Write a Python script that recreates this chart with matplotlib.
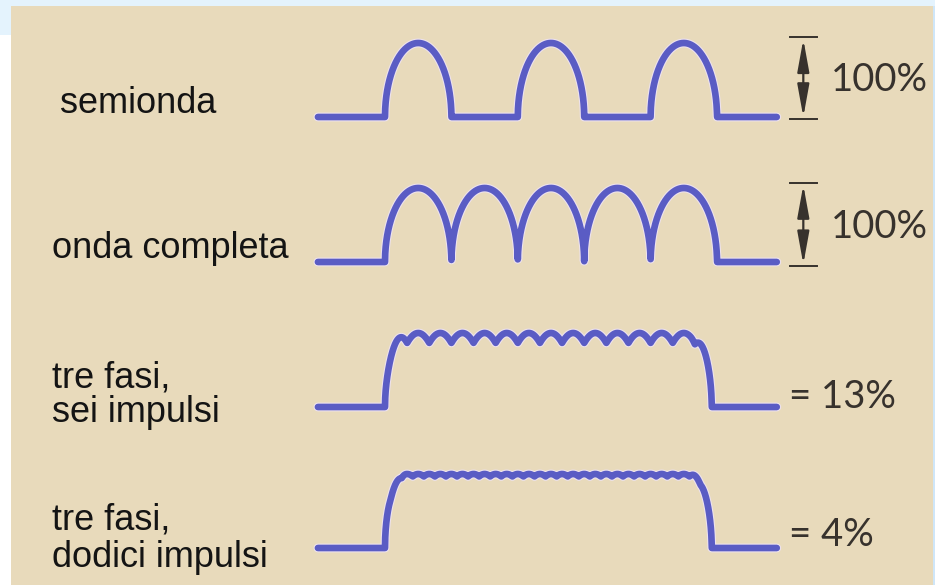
import matplotlib
matplotlib.use('Agg')
import matplotlib.pyplot as plt
import numpy as np
from matplotlib.patches import Rectangle
import matplotlib.patheffects as pe

# rows of the diagram, top to bottom
labels = ["semionda", "onda completa", "tre fasi,\nsei impulsi", "tre fasi,\ndodici impulsi"]
ripple_text = ["100%", "100%", "= 13%", "= 4%"]
pulses = [1, 2, 6, 12]           # pulses per cycle of the mains
on_end = [5.0, 5.0, 4.92, 4.92]  # end of conduction, in half-periods
show_arrow = [True, True, False, False]

W, H = 935, 585
BASE_PX = [117, 262, 407, 548]   # baseline of each waveform (pixels from top)
X0, U = 385.0, 66.4              # pixel of t=0 and pixels per half-period
A = 74.0                         # pixels per unit amplitude

BLUE = '#5a5cc4'
INK = '#37322d'
BEIGE = '#e8dabb'


def fx(px):
    return px / W


def fy(py):
    return 1 - py / H


def hump(frac):
    # the drawing uses rounded, almost elliptical humps
    return np.sqrt(np.clip(1 - (2 * frac - 1) ** 2, 0, None))


def wave(t, p, end):
    if p == 1:
        frac = np.mod(t, 2.0)
        y = np.where(frac < 1, hump(np.clip(frac, 0, 1)), 0.0)
    elif p == 2:
        y = hump(np.mod(t, 1.0))
    else:
        shifts = np.arange(p // 2) * 2 * np.pi / p
        y = np.max(np.abs(np.sin(np.pi * t[None, :] + shifts[:, None])), axis=0)
        r = 0.32
        env = np.ones_like(t)
        a = np.clip(t / r, 0, 1)
        env = np.where(t < r, np.sqrt(1 - (1 - a) ** 2), env)
        b = np.clip((end - t) / r, 0, 1)
        env = np.where(t > end - r, np.sqrt(1 - (1 - b) ** 2), env)
        y = y * env
    y = np.asarray(y, dtype=float)
    y[(t < 0) | (t > end)] = 0
    return y


fig = plt.figure(figsize=(W / 100, H / 100), dpi=100)
fig.patch.set_facecolor('white')

# background: beige card with light blue strips on top/left
fig.add_artist(Rectangle((fx(11), 0), fx(922), fy(6), transform=fig.transFigure,
                         facecolor=BEIGE, edgecolor='none', zorder=0))
fig.add_artist(Rectangle((0, fy(6)), 1, 6 / H, transform=fig.transFigure,
                         facecolor='#e4f3fd', edgecolor='none', zorder=0))
fig.add_artist(Rectangle((0, fy(35)), fx(11), 29 / H, transform=fig.transFigure,
                         facecolor='#e4f3fd', edgecolor='none', zorder=0))
fig.add_artist(Rectangle((fx(933), 0), fx(2), fy(6), transform=fig.transFigure,
                         facecolor='#cfe6f8', edgecolor='none', zorder=0))

t = np.linspace(-1.01, 5.9, 8000)
left_px, right_px = 300, 820
right_font = dict(fontsize=27.5, family=['Lato', 'DejaVu Sans'], color=INK,
                  va='center', ha='left', clip_on=False)

for i in range(4):
    b = BASE_PX[i]
    ax = fig.add_axes([fx(left_px), fy(b + 20), (right_px - left_px) / W, 114 / H])
    ax.set_xlim((left_px - X0) / U, (right_px - X0) / U)
    ax.set_ylim(-20 / A, 94 / A)
    ax.axis('off')
    ax.patch.set_visible(False)

    y = wave(t, pulses[i], on_end[i])
    ax.plot(t, y, color=BLUE, lw=4.8, solid_capstyle='round', solid_joinstyle='round',
            path_effects=[pe.Stroke(linewidth=6.4, foreground='#ede2ee'), pe.Normal()])

    if show_arrow[i]:
        top = 1.08 if i == 0 else 1.07
        bot = -0.03 if i == 0 else -0.06
        for yy in (top, bot):
            ax.plot([6.1, 6.5], [yy, yy], color=INK, lw=1.4, clip_on=False)
        ax.annotate('', xy=(6.3, top - 0.03), xytext=(6.3, bot + 0.03),
                    arrowprops=dict(arrowstyle='<|-|>,head_length=1.1,head_width=0.2',
                                    color=INK, lw=1.6, shrinkA=0, shrinkB=0,
                                    mutation_scale=18))
        ax.text(6.72, 0.5 if i == 0 else 0.47, ripple_text[i], **right_font)
    else:
        ax.text(6.08, 0.14 if i == 2 else 0.18, ripple_text[i], **right_font)

# left-hand labels
label_pos = [(60, [113]), (52, [258]), (52, [387, 422]), (52, [530, 567])]
for lab, (lx, lines_y) in zip(labels, label_pos):
    for txt, ly in zip(lab.split('\n'), lines_y):
        fig.text(fx(lx), fy(ly), txt, fontsize=26, family=['Liberation Sans', 'DejaVu Sans'],
                 color='#141414', ha='left', va='baseline')

fig.savefig('out.png', dpi=100)
